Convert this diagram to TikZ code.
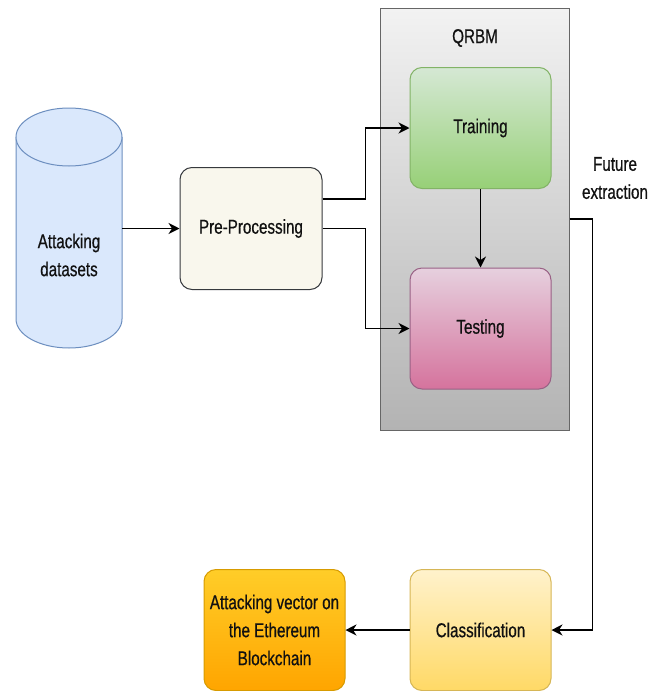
\documentclass[tikz,border=0pt]{standalone}
\usepackage{fontspec}
\setmainfont[FakeStretch=0.76, FakeBold=0.6]{Liberation Sans}
\usetikzlibrary{arrows.meta}

\definecolor{inkc}{HTML}{111111}
\definecolor{cylfill}{HTML}{DAE8FC}
\definecolor{cyldraw}{HTML}{6C8EBF}
\definecolor{prefill}{HTML}{F9F7ED}
\definecolor{predraw}{HTML}{36393D}
\definecolor{boxtop}{HTML}{F2F2F2}
\definecolor{boxbot}{HTML}{B3B3B3}
\definecolor{boxdraw}{HTML}{666666}
\definecolor{greentop}{HTML}{D5E8D4}
\definecolor{greenbot}{HTML}{97D077}
\definecolor{greendraw}{HTML}{82B366}
\definecolor{pinktop}{HTML}{E6D0DE}
\definecolor{pinkbot}{HTML}{D5739D}
\definecolor{pinkdraw}{HTML}{996185}
\definecolor{yeltop}{HTML}{FFF2CC}
\definecolor{yelbot}{HTML}{FFD966}
\definecolor{yeldraw}{HTML}{D6B656}
\definecolor{orgtop}{HTML}{FFCD28}
\definecolor{orgbot}{HTML}{FFA500}
\definecolor{orgdraw}{HTML}{D79B00}

\tikzset{
  txt/.style={text=inkc, font=\fontsize{20}{28}\selectfont, align=center},
  stage/.style={txt, rounded corners=12pt, line width=1pt,
    minimum width=141pt, minimum height=121pt, inner sep=0pt},
  link/.style={line width=1.4pt, black,
    -{Stealth[length=11pt, width=11pt, inset=3.5pt]}},
}

\begin{document}
\begin{tikzpicture}[x=1pt, y=-1pt]
\useasboundingbox (0,0) rectangle (662,691);

% data store drawn as a cylinder
\fill[cylfill] (16,137) rectangle (122,319);
\fill[cylfill] (69,319) ellipse [x radius=53, y radius=29];
\draw[cyldraw, line width=1pt] (16,137) -- (16,319)
  arc [start angle=180, end angle=0, x radius=53, y radius=29] -- (122,137);
\filldraw[fill=cylfill, draw=cyldraw, line width=1pt]
  (69,137) ellipse [x radius=53, y radius=29];
\node[minimum width=106pt, minimum height=240pt, inner sep=0pt] (data) at (69,228.5) {};
\node[txt] (datalbl) at (69,255) {Attacking\\datasets};

% pre-processing step
\node[stage, minimum width=142pt, minimum height=122pt, fill=prefill, draw=predraw]
  (pre) at (251,228.5) {Pre-Processing};

% QRBM container with its two stages
\node[top color=boxtop, bottom color=boxbot, draw=boxdraw, line width=1pt,
  minimum width=189pt, minimum height=422pt, inner sep=0pt] (qrbm) at (474.5,219) {};
\node[txt] (qrbmlbl) at (475,38) {QRBM};
\node[stage, top color=greentop, bottom color=greenbot, draw=greendraw]
  (train) at (480.5,128) {Training};
\node[stage, top color=pinktop, bottom color=pinkbot, draw=pinkdraw]
  (test) at (480.5,328.5) {Testing};

% output stages
\node[stage, top color=yeltop, bottom color=yelbot, draw=yeldraw]
  (class) at (480.5,630) {Classification};
\node[stage, top color=orgtop, bottom color=orgbot, draw=orgdraw]
  (vec) at (274.5,630) {Attacking vector on\\the Ethereum\\Blockchain};

\node[txt] (feat) at (615,178) {Future\\extraction};

% connectors
\draw[link] (data.east) -- (pre.west);
\draw[link] ([yshift=29.5pt]pre.east) -- ++(43,0) |- (train.west);
\draw[link] (pre.east) -- ++(43,0) |- (test.west);
\draw[link] (train.south) -- (test.north);
\draw[link] (qrbm.east) -- ++(23,0) |- (class.east);
\draw[link] (class.west) -- (vec.east);
\end{tikzpicture}
\end{document}
